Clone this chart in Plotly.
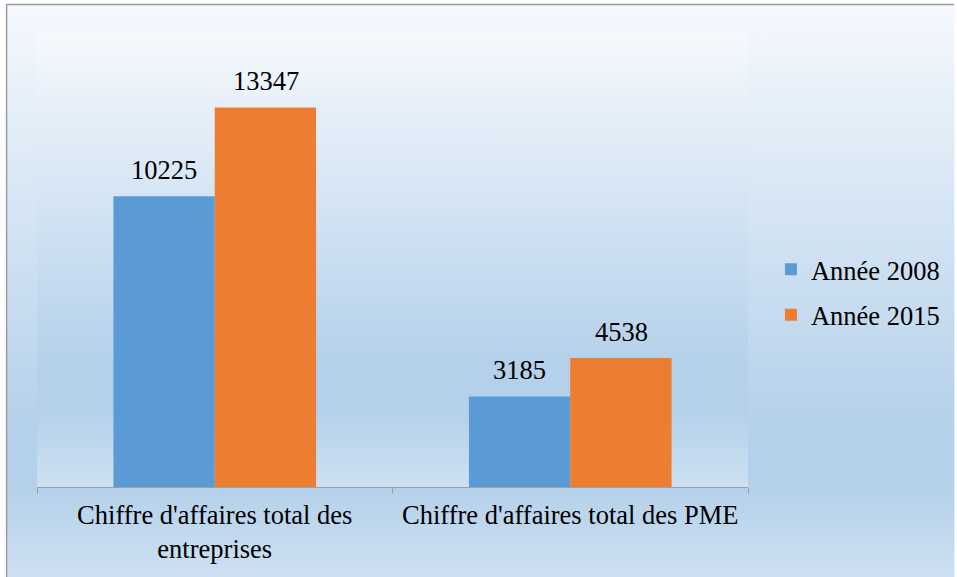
import base64
import plotly.graph_objects as go

categories = ["Chiffre d'affaires total des<br>entreprises", "Chiffre d'affaires total des PME"]
series_names = ["Année 2008", "Année 2015"]
values_2008 = [10225, 3185]
values_2015 = [13347, 4538]
colors = ["#5B9BD5", "#ED7D31"]

FONT = "Liberation Serif, Times New Roman, DejaVu Serif, serif"
FS = 26.5
BARGAP = 0.43

W, H = 957, 577
L, R, T, B = 37, 750, 32, 487  # plot area pixel box

svg = f'''<svg xmlns="http://www.w3.org/2000/svg" width="{W}" height="{H}" viewBox="0 0 {W} {H}" preserveAspectRatio="none">
<defs>
<linearGradient id="g1" x1="0" y1="0" x2="0" y2="1">
<stop offset="0" stop-color="#F5F9FD"/><stop offset="0.74" stop-color="#B4D0EA"/>
<stop offset="0.83" stop-color="#B4D0EA"/><stop offset="1" stop-color="#CEE1F2"/>
</linearGradient>
<linearGradient id="g2" x1="0" y1="0" x2="0" y2="1">
<stop offset="0" stop-color="#F5F9FD"/><stop offset="0.74" stop-color="#B4D0EA"/>
<stop offset="0.83" stop-color="#B4D0EA"/><stop offset="1" stop-color="#CEE1F2"/>
</linearGradient>
</defs>
<rect x="0" y="0" width="{W}" height="{H}" fill="white"/>
<rect x="6.5" y="4.5" width="{W}" height="{H}" fill="url(#g1)"/>
<path d="M6.5,{H} L6.5,4.5 L{W},4.5" fill="none" stroke="#9C9C9C" stroke-width="1.5"/>
<rect x="{L}" y="{T}" width="{R-L}" height="{B-T}" fill="url(#g2)"/>
</svg>'''
src = "data:image/svg+xml;base64," + base64.b64encode(svg.encode()).decode()

pw, ph = R - L, B - T
n_series = 2
bar_px = pw / len(categories) * (1 - BARGAP) / n_series

fig = go.Figure()
annotations = []
for i, (name, vals, col, grp) in enumerate([(series_names[0], values_2008, colors[0], "a"),
                                            (series_names[1], values_2015, colors[1], "b")]):
    fig.add_trace(go.Bar(
        x=categories, y=vals, name=name, legendgroup=grp,
        marker=dict(color=col, line=dict(width=0)),
        hovertemplate="%{y}<extra>" + name + "</extra>",
    ))
    shift = (i - (n_series - 1) / 2) * bar_px
    for c, v in zip(categories, vals):
        annotations.append(dict(
            x=c, y=v, xref="x", yref="y", text=str(v), showarrow=False,
            xanchor="center", yanchor="bottom", xshift=shift, yshift=9,
            font=dict(family=FONT, size=FS, color="black"),
        ))

fig.update_layout(
    width=W, height=H,
    margin=dict(l=L, r=W - R, t=T, b=H - B),
    paper_bgcolor="white",
    plot_bgcolor="rgba(0,0,0,0)",
    barmode="group", bargap=BARGAP, bargroupgap=0,
    font=dict(family=FONT, size=FS, color="black"),
    showlegend=True,
    legend=dict(x=(773 - L) / pw, xanchor="left", y=(B - 292) / ph, yanchor="middle",
                orientation="v", bgcolor="rgba(0,0,0,0)",
                font=dict(family=FONT, size=FS, color="black"),
                tracegroupgap=8, traceorder="grouped"),
    annotations=annotations,
    images=[dict(source=src, xref="paper", yref="paper",
                 x=-L / pw, y=B / ph, sizex=W / pw, sizey=H / ph,
                 xanchor="left", yanchor="top", sizing="stretch", layer="below")],
)
fig.update_xaxes(showline=True, linecolor="#A0A0A0", linewidth=1.25,
                 ticks="outside", tickson="boundaries", ticklen=6, tickcolor="#A0A0A0",
                 ticklabelstandoff=4,
                 tickfont=dict(family=FONT, size=FS, color="black"),
                 showgrid=False, zeroline=False)
fig.update_yaxes(range=[0, 16000], visible=False, showgrid=False)

fig.write_html("out.html", config={"displayModeBar": False},
               post_script="document.body.style.margin='0';document.body.style.overflow='hidden';")
